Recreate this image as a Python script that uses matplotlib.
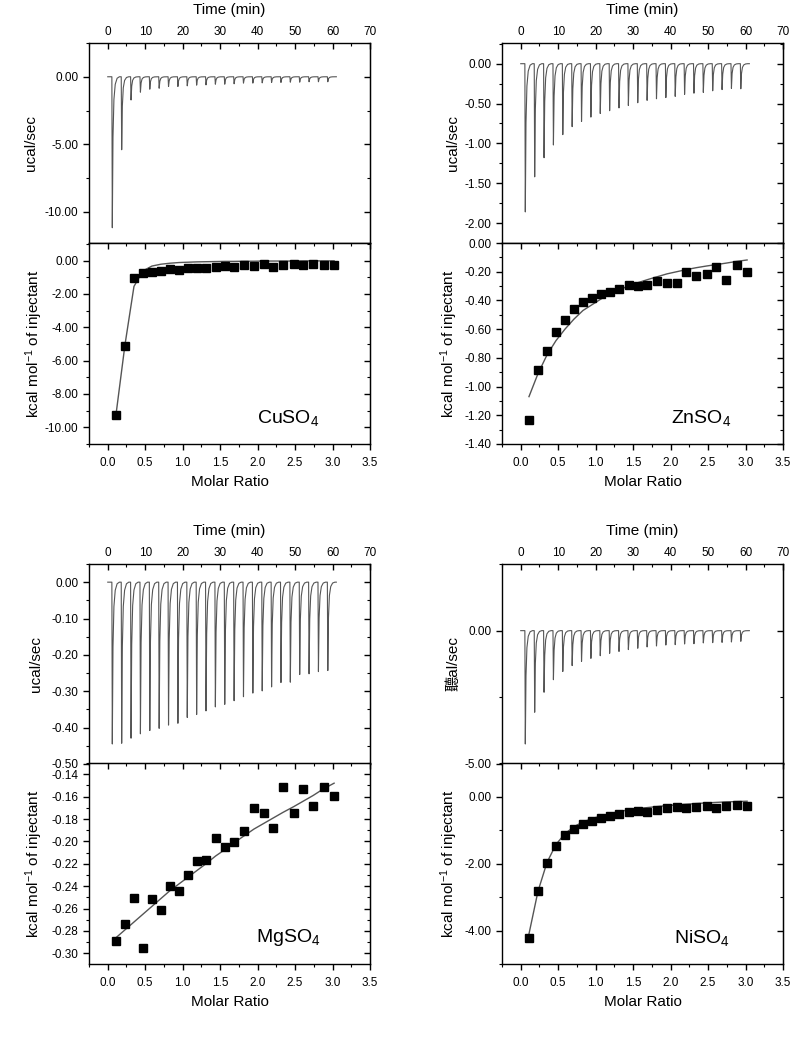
import numpy as np
import matplotlib
matplotlib.use("Agg")
from matplotlib import pyplot as plt
from matplotlib.ticker import MultipleLocator, FormatStrFormatter

plt.rcParams['font.family'] = ['Liberation Sans', 'DejaVu Sans']
plt.rcParams['mathtext.fontset'] = 'custom'
plt.rcParams['mathtext.rm'] = 'Liberation Sans'
plt.rcParams['mathtext.default'] = 'regular'
plt.rcParams['axes.unicode_minus'] = False

# injection times (min) and molar ratios, common to the four titrations
inj_times = [1.1, 3.6, 6.1, 8.6, 11.1, 13.6, 16.1, 18.6, 21.1, 23.6, 26.1, 28.6,
             31.1, 33.6, 36.1, 38.6, 41.1, 43.6, 46.1, 48.6, 51.1, 53.6, 56.1, 58.6]
run_end = 61.0
molar_ratio = [0.11, 0.23, 0.35, 0.47, 0.59, 0.71, 0.83, 0.95, 1.07, 1.19, 1.31, 1.44,
               1.57, 1.69, 1.82, 1.95, 2.08, 2.21, 2.34, 2.48, 2.61, 2.74, 2.88, 3.02]

# normalised shape of one injection peak (offset in min, fraction of depth)
peak_dt = [0.0, 0.12, 0.3, 0.55, 0.9, 1.4, 2.0]
peak_frac = [0.0, 1.0, 0.4, 0.15, 0.05, 0.01, 0.0]

# raw peak minima (ucal/sec)
cu_peaks = [-11.17, -5.40, -1.72, -1.14, -0.92, -0.85, -0.72, -0.72, -0.67, -0.62, -0.60, -0.55,
            -0.55, -0.52, -0.47, -0.47, -0.45, -0.42, -0.42, -0.40, -0.40, -0.37, -0.37, -0.37]
zn_peaks = [-1.86, -1.42, -1.18, -1.02, -0.89, -0.79, -0.725, -0.67, -0.625, -0.59, -0.555, -0.525,
            -0.49, -0.46, -0.44, -0.425, -0.41, -0.385, -0.37, -0.36, -0.34, -0.325, -0.31, -0.315]
mg_peaks = [-0.445, -0.443, -0.429, -0.417, -0.408, -0.402, -0.393, -0.388, -0.372, -0.364, -0.354, -0.343,
            -0.336, -0.326, -0.315, -0.305, -0.299, -0.288, -0.276, -0.275, -0.254, -0.252, -0.246, -0.243]
ni_peaks = [-4.25, -3.06, -2.31, -1.84, -1.53, -1.31, -1.15, -1.04, -0.94, -0.85, -0.78, -0.71,
            -0.66, -0.61, -0.575, -0.54, -0.525, -0.50, -0.49, -0.46, -0.45, -0.44, -0.425, -0.40]

# integrated heats (kcal/mol of injectant)
cu_heat = [-9.24, -5.10, -1.06, -0.76, -0.66, -0.62, -0.50, -0.54, -0.44, -0.44, -0.42, -0.36,
           -0.34, -0.36, -0.28, -0.30, -0.22, -0.36, -0.28, -0.22, -0.28, -0.22, -0.24, -0.24]
zn_heat = [-1.233, -0.884, -0.749, -0.621, -0.535, -0.460, -0.412, -0.384, -0.356, -0.340, -0.319, -0.291,
           -0.298, -0.291, -0.263, -0.281, -0.281, -0.200, -0.233, -0.219, -0.167, -0.256, -0.151, -0.200]
mg_heat = [-0.2886, -0.2737, -0.2506, -0.2952, -0.2512, -0.2614, -0.2399, -0.2447, -0.2303, -0.2178,
           -0.2169, -0.1971, -0.2046, -0.2001, -0.1908, -0.1705, -0.1750, -0.1881, -0.1517, -0.1747,
           -0.1532, -0.1681, -0.1514, -0.1594]
ni_heat = [-4.22, -2.83, -1.99, -1.47, -1.15, -0.97, -0.82, -0.73, -0.64, -0.57, -0.53, -0.47,
           -0.44, -0.45, -0.39, -0.35, -0.32, -0.35, -0.30, -0.28, -0.33, -0.27, -0.24, -0.27]

# fitted curves
cu_fit = [-9.24, -5.05, -1.55, -0.62, -0.33, -0.22, -0.16, -0.12, -0.10, -0.08, -0.07, -0.06,
          -0.05, -0.05, -0.04, -0.04, -0.03, -0.03, -0.03, -0.03, -0.02, -0.02, -0.02, -0.02]
zn_fit = [-1.07, -0.91, -0.78, -0.68, -0.60, -0.53, -0.47, -0.43, -0.39, -0.355, -0.325, -0.30,
          -0.275, -0.255, -0.235, -0.215, -0.20, -0.185, -0.172, -0.160, -0.150, -0.140, -0.128, -0.118]
mg_fit = [-0.286, -0.279, -0.272, -0.265, -0.258, -0.251, -0.244, -0.238, -0.232, -0.226, -0.220, -0.213,
          -0.207, -0.201, -0.195, -0.189, -0.184, -0.179, -0.174, -0.169, -0.164, -0.159, -0.153, -0.148]
ni_fit = [-4.10, -2.83, -1.97, -1.43, -1.11, -0.90, -0.76, -0.66, -0.58, -0.51, -0.45, -0.40,
          -0.36, -0.33, -0.30, -0.27, -0.25, -0.23, -0.21, -0.19, -0.175, -0.16, -0.15, -0.14]

salts = ["CuSO$_4$", "ZnSO$_4$", "MgSO$_4$", "NiSO$_4$"]


def thermogram(times, depths):
    ts, ys = [0.0], [0.0]
    for t0, d in zip(times, depths):
        for dt, f in zip(peak_dt, peak_frac):
            ts.append(t0 + dt)
            ys.append(d * f)
    ts.append(run_end)
    ys.append(0.0)
    return ts, ys


def tick_sizes(ax, axis):
    ax.tick_params(axis=axis, which='major', length=4, width=1.0)
    ax.tick_params(axis=axis, which='minor', length=2.5, width=0.8)


def style_y(ax, ymaj, ymin):
    ax.yaxis.set_major_locator(MultipleLocator(ymaj))
    ax.yaxis.set_minor_locator(MultipleLocator(ymin))
    ax.yaxis.set_major_formatter(FormatStrFormatter('%.2f'))
    ax.tick_params(axis='y', which='both', left=True, right=False, direction='out', labelsize=8.5)
    tick_sizes(ax, 'y')
    # inward ticks on the right spine
    sec = ax.secondary_yaxis('right')
    sec.yaxis.set_major_locator(MultipleLocator(ymaj))
    sec.yaxis.set_minor_locator(MultipleLocator(ymin))
    sec.tick_params(axis='y', which='both', direction='in', labelright=False)
    tick_sizes(sec, 'y')
    for s in ax.spines.values():
        s.set_linewidth(1.0)


def draw_panel(x0, y_top, y_bot, peaks, heat, fit, salt, top_ylim, top_tick, bot_ylim, bot_tick,
               label_x, ucal_label="ucal/sec", ucal_family=None):
    w = 0.354
    h_top = 0.1905
    h_bot = 0.1914
    ax1 = fig.add_axes([x0, y_top, w, h_top])
    ax2 = fig.add_axes([x0, y_bot, w, h_bot])

    # raw thermogram
    ts, ys = thermogram(inj_times, peaks)
    ax1.plot(ts, ys, color="#555555", lw=0.8)
    ax1.set_xlim(-5, 70)
    ax1.set_ylim(*top_ylim)
    ax1.xaxis.set_major_locator(MultipleLocator(10))
    ax1.xaxis.set_minor_locator(MultipleLocator(5))
    ax1.tick_params(axis='x', which='both', top=True, bottom=False, labeltop=True,
                    labelbottom=False, direction='in', labelsize=8.5)
    tick_sizes(ax1, 'x')
    style_y(ax1, top_tick[0], top_tick[1])
    ax1.xaxis.set_label_position('top')
    ax1.set_xlabel("Time (min)", fontsize=11, labelpad=9)
    if ucal_family is not None:
        ax1.set_ylabel(ucal_label, fontsize=11, family=ucal_family)
    else:
        ax1.set_ylabel(ucal_label, fontsize=11)
    ax1.yaxis.set_label_coords(label_x[0], 0.5)

    # integrated heats and fit
    ax2.plot(molar_ratio, fit, color="#555555", lw=1.0)
    ax2.plot(molar_ratio, heat, "s", color="black", ms=5.5)
    ax2.set_xlim(-0.25, 3.5)
    ax2.set_ylim(*bot_ylim)
    ax2.xaxis.set_major_locator(MultipleLocator(0.5))
    ax2.xaxis.set_minor_locator(MultipleLocator(0.25))
    ax2.xaxis.set_major_formatter(FormatStrFormatter('%.1f'))
    ax2.tick_params(axis='x', which='both', top=False, bottom=True, direction='out',
                    labelsize=8.5, pad=5)
    tick_sizes(ax2, 'x')
    secx = ax2.secondary_xaxis('top')
    secx.xaxis.set_major_locator(MultipleLocator(0.5))
    secx.xaxis.set_minor_locator(MultipleLocator(0.25))
    secx.tick_params(axis='x', which='both', direction='in', labeltop=False)
    tick_sizes(secx, 'x')
    style_y(ax2, bot_tick[0], bot_tick[1])
    ax2.set_xlabel("Molar Ratio", fontsize=11, labelpad=5)
    ax2.set_ylabel("kcal mol$^{-1}$ of injectant", fontsize=11)
    ax2.yaxis.set_label_coords(label_x[1], 0.5)
    ax2.text(0.71, 0.13, salt, transform=ax2.transAxes, fontsize=14, ha="center", va="center")
    return ax1, ax2


fig = plt.figure(figsize=(7.94, 10.5), dpi=100, facecolor="white")

left_x = 89 / 794
right_x = 502 / 794
row1_top, row1_bot = 1 - 243 / 1050, 1 - 444 / 1050
row2_top, row2_bot = 1 - 764 / 1050, 1 - 964 / 1050

draw_panel(left_x, row1_top, row1_bot, cu_peaks, cu_heat, cu_fit, salts[0],
           (-12.3, 2.5), (5, 2.5), (-11, 1.05), (2, 1), (-0.182, -0.157))
draw_panel(right_x, row1_top, row1_bot, zn_peaks, zn_heat, zn_fit, salts[1],
           (-2.25, 0.26), (0.5, 0.25), (-1.4, 0.0), (0.2, 0.1), (-0.148, -0.148))
draw_panel(left_x, row2_top, row2_bot, mg_peaks, mg_heat, mg_fit, salts[2],
           (-0.5, 0.05), (0.1, 0.05), (-0.3095, -0.13), (0.02, 0.01), (-0.164, -0.157))
draw_panel(right_x, row2_top, row2_bot, ni_peaks, ni_heat, ni_fit, salts[3],
           (-5, 2.5), (5, 2.5), (-5, 1.0), (2, 1), (-0.148, -0.148),
           ucal_label="聽al/sec", ucal_family=['Liberation Sans', 'Noto Sans CJK SC'])

plt.savefig("out.png", dpi=100)
